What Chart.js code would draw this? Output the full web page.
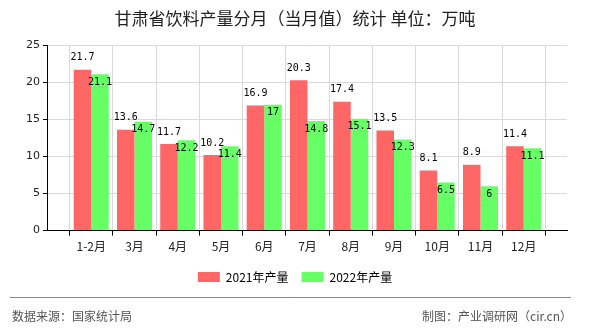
<!DOCTYPE html>
<html lang="zh">
  <head>
    <meta charset="UTF-8" />
    <title>甘肃省饮料产量分月统计</title>
    <script src="https://cdn.jsdelivr.net/npm/chart.js"></script>
    <style>
      * {
        margin: 0;
        padding: 0;
      }
      body {
        background: #fff;
        width: 590px;
        height: 330px;
        overflow: hidden;
      }
      .box {
        position: relative;
        width: 590px;
        height: 330px;
      }
    </style>
  </head>
  <body>
    <div class="box">
      <canvas id="chart" width="590" height="330"></canvas>
    </div>

    <script>
      /*====  DADOS ============================ */
      var months = ['1-2月', '3月', '4月', '5月', '6月', '7月', '8月', '9月', '10月', '11月', '12月'];
      var y2021 = [21.7, 13.6, 11.7, 10.2, 16.9, 20.3, 17.4, 13.5, 8.1, 8.9, 11.4];
      var y2022 = [21.1, 14.7, 12.2, 11.4, 17, 14.8, 15.1, 12.3, 6.5, 6, 11.1];
      var yTicks = [0, 5, 10, 15, 20, 25];

      var cjk = '"Noto Sans CJK SC", "DejaVu Sans", sans-serif';

      // one empty slot at each end, so the months sit between the axis and the right edge
      var labels = [''].concat(months, ['']);
      var pad = function (arr) {
        return [null].concat(arr, [null]);
      };

      /*====  ROTULOS DE VALOR ============================ */
      var valueLabels = {
        id: 'valueLabels',
        afterDatasetsDraw: function (chart) {
          var ctx = chart.ctx;
          ctx.save();
          ctx.font = '10px "DejaVu Sans Mono", monospace';
          ctx.fillStyle = '#000';
          ctx.textAlign = 'center';
          ctx.textBaseline = 'middle';
          chart.data.datasets.forEach(function (ds, i) {
            chart.getDatasetMeta(i).data.forEach(function (bar, j) {
              var v = ds.data[j];
              if (v == null) return;
              var y = i === 0 ? bar.y - 12 : bar.y + 8;
              ctx.fillText(String(v), bar.x, y);
            });
          });
          ctx.restore();
        }
      };

      /*====  RODAPE ============================ */
      var footer = {
        id: 'footer',
        afterDraw: function (chart) {
          var ctx = chart.ctx;
          ctx.save();
          ctx.strokeStyle = '#888';
          ctx.lineWidth = 1;
          ctx.beginPath();
          ctx.moveTo(10, 297.5);
          ctx.lineTo(571, 297.5);
          ctx.stroke();
          ctx.font = '12px ' + cjk;
          ctx.fillStyle = '#555';
          ctx.textBaseline = 'middle';
          ctx.textAlign = 'left';
          ctx.fillText('数据来源：国家统计局', 12, 316);
          ctx.textAlign = 'right';
          ctx.fillText('制图：产业调研网（cir.cn）', 572, 316);
          ctx.restore();
        }
      };

      var ctx = document.getElementById('chart').getContext('2d');
      var myChart = new Chart(ctx, {
        type: 'bar',
        data: {
          labels: labels,
          datasets: [
            {
              label: '2021年产量',
              data: pad(y2021),
              backgroundColor: '#ff6666',
              categoryPercentage: 0.81,
              barPercentage: 1
            },
            {
              label: '2022年产量',
              data: pad(y2022),
              backgroundColor: '#66ff66',
              categoryPercentage: 0.81,
              barPercentage: 1
            }
          ]
        },
        options: {
          responsive: false,
          animation: false,
          layout: {
            padding: { left: 23, right: 23, top: 0, bottom: 37 }
          },
          plugins: {
            title: {
              display: true,
              text: '甘肃省饮料产量分月（当月值）统计 单位：万吨',
              color: '#222',
              font: { family: cjk, size: 17, weight: 'normal' },
              padding: { top: 8, bottom: 17 }
            },
            legend: {
              display: true,
              position: 'bottom',
              labels: {
                color: '#000',
                font: { family: cjk, size: 12 },
                boxWidth: 22,
                boxHeight: 10,
                padding: 13
              }
            },
            tooltip: { enabled: false }
          },
          scales: {
            x: {
              offset: false,
              grid: {
                color: '#d9d9d9',
                tickColor: '#000',
                tickLength: 5
              },
              border: { color: '#000' },
              ticks: {
                color: '#222',
                font: { family: cjk, size: 12 },
                maxRotation: 0,
                autoSkip: false,
                padding: 4
              }
            },
            y: {
              min: 0,
              max: 25,
              afterBuildTicks: function (axis) {
                axis.ticks = yTicks.map(function (v) {
                  return { value: v };
                });
              },
              grid: {
                color: '#d9d9d9',
                tickColor: '#000',
                tickLength: 5
              },
              border: { color: '#000' },
              ticks: {
                color: '#222',
                font: { family: '"DejaVu Sans", sans-serif', size: 11 },
                padding: 3
              }
            }
          }
        },
        plugins: [valueLabels, footer]
      });
    </script>
  </body>
</html>
